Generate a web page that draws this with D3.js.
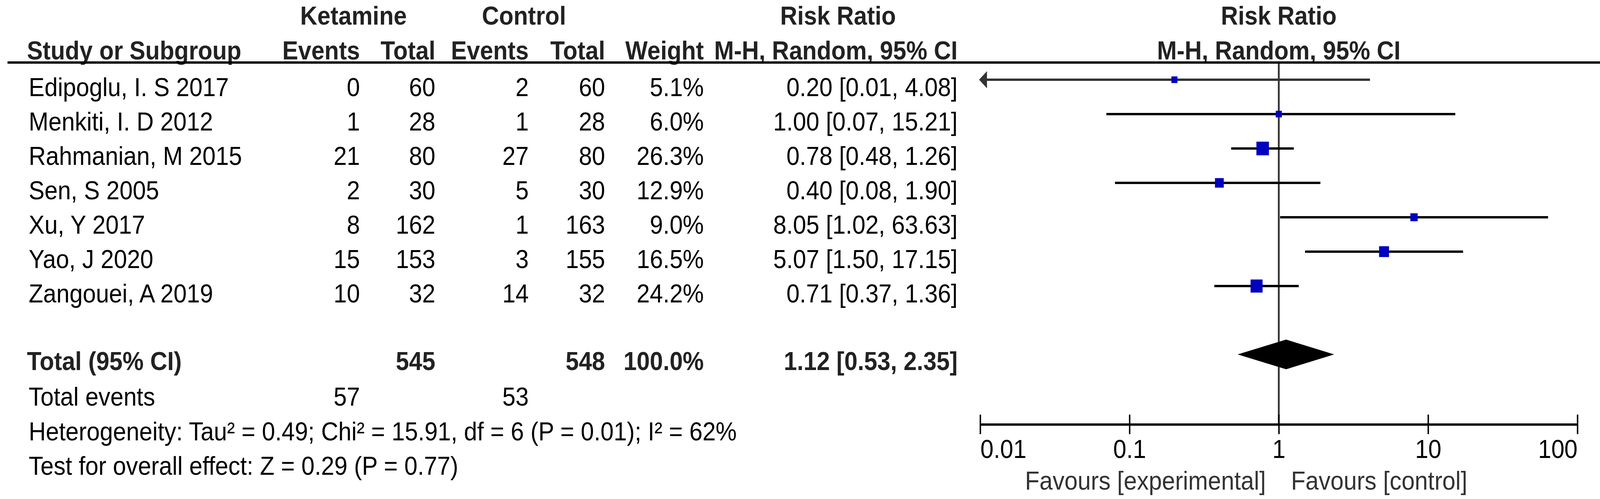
<!DOCTYPE html>
<html>
<head>
<meta charset="utf-8">
<script src="https://cdn.jsdelivr.net/npm/d3@7"></script>
<style>
  html, body { margin: 0; padding: 0; background: #fff; overflow: hidden; }
  svg { display: block; width: 100vw; height: 100vh; }
  text { font-family: "Liberation Sans", Arial, sans-serif; font-size: 66px; }
</style>
</head>
<body>
<div id="forest"></div>
<script>
var width = 4458, height = 1277;

// study data
var studies = ["Edipoglu, I. S 2017", "Menkiti, I. D 2012", "Rahmanian, M 2015", "Sen, S 2005",
               "Xu, Y 2017", "Yao, J 2020", "Zangouei, A 2019"];
var ketEvents = [0, 1, 21, 2, 8, 15, 10];
var ketTotal = [60, 28, 80, 30, 162, 153, 32];
var ctlEvents = [2, 1, 27, 5, 1, 3, 14];
var ctlTotal = [60, 28, 80, 30, 163, 155, 32];
var weights = [5.1, 6.0, 26.3, 12.9, 9.0, 16.5, 24.2];
var rr = [0.20, 1.00, 0.78, 0.40, 8.05, 5.07, 0.71];
var lower = [0.01, 0.07, 0.48, 0.08, 1.02, 1.50, 0.37];
var upper = [4.08, 15.21, 1.26, 1.90, 63.63, 17.15, 1.36];

// pooled result
var totalKet = 545, totalCtl = 548, totalWeight = "100.0%";
var eventsKet = 57, eventsCtl = 53;
var pooled = [1.12, 0.53, 2.35];

var axisTicks = [0.01, 0.1, 1, 10, 100];
var heteroText = "Heterogeneity: Tau\u00b2 = 0.49; Chi\u00b2 = 15.91, df = 6 (P = 0.01); I\u00b2 = 62%";
var overallText = "Test for overall effect: Z = 0.29 (P = 0.77)";

// stretch the drawing to whatever the viewport is
var svg = d3.select("#forest")
    .append("svg")
    .attr("viewBox", "0 0 " + width + " " + height)
    .attr("preserveAspectRatio", "none");

var x = d3.scaleLog().domain([0.01, 100]).range([2731, 4395]);
var y = d3.scalePoint().domain(studies).range([246, 774]);   // text baselines
var markOff = 42;   // marks sit above the baseline
var boxSize = function(w) { return Math.max(17, 6.8 * Math.sqrt(w)); };

// column right edges
var col = { ketEv: 1003, ketTot: 1213, ctlEv: 1473, ctlTot: 1686, weight: 1961, ci: 2668 };
var fmt = d3.format(".2f");
var ciLabel = function(m, l, u) { return fmt(m) + " [" + fmt(l) + ", " + fmt(u) + "]"; };

// headers
function head(txt, xp, yp, anchor) {
  svg.append("text").attr("x", xp).attr("y", yp)
    .attr("text-anchor", anchor).attr("font-weight", "bold").attr("fill", "#222")
    .text(txt);
}
head("Ketamine", 985, 63, "middle");
head("Control", 1460, 63, "middle");
head("Risk Ratio", 2335, 63, "middle");
head("Risk Ratio", x(1), 63, "middle");
head("Study or Subgroup", 75, 152, "start");
head("Events", col.ketEv, 152, "end");
head("Total", col.ketTot, 152, "end");
head("Events", col.ctlEv, 152, "end");
head("Total", col.ctlTot, 152, "end");
head("Weight", col.weight, 152, "end");
head("M-H, Random, 95% CI", col.ci, 152, "end");
head("M-H, Random, 95% CI", x(1), 152, "middle");

// line of no effect
svg.append("line")
  .attr("x1", x(1)).attr("x2", x(1))
  .attr("y1", 162).attr("y2", 1086)
  .attr("stroke", "#333").attr("stroke-width", 5);

svg.append("line")
  .attr("x1", 21).attr("x2", width)
  .attr("y1", 160).attr("y2", 160)
  .attr("stroke", "#000").attr("stroke-width", 6);

// study rows
var rows = svg.selectAll("g.row")
  .data(studies)
  .enter()
  .append("g")
  .attr("class", "row");

var cells = [
  { x: 80, anchor: "start", get: function(d, i) { return d; } },
  { x: col.ketEv, anchor: "end", get: function(d, i) { return ketEvents[i]; } },
  { x: col.ketTot, anchor: "end", get: function(d, i) { return ketTotal[i]; } },
  { x: col.ctlEv, anchor: "end", get: function(d, i) { return ctlEvents[i]; } },
  { x: col.ctlTot, anchor: "end", get: function(d, i) { return ctlTotal[i]; } },
  { x: col.weight, anchor: "end", get: function(d, i) { return weights[i].toFixed(1) + "%"; } },
  { x: col.ci, anchor: "end", get: function(d, i) { return ciLabel(rr[i], lower[i], upper[i]); } }
];
cells.forEach(function(c) {
  rows.append("text")
    .attr("x", c.x)
    .attr("y", function(d) { return y(d); })
    .attr("text-anchor", c.anchor)
    .attr("fill", "#000")
    .text(c.get);
});

// CI lines
rows.append("line")
  .attr("x1", function(d, i) { return x(Math.max(lower[i], 0.01)); })
  .attr("x2", function(d, i) { return x(Math.min(upper[i], 100)); })
  .attr("y1", function(d) { return y(d) - markOff; })
  .attr("y2", function(d) { return y(d) - markOff; })
  .attr("stroke", function(d, i) { return lower[i] <= 0.01 ? "#333" : "#000"; })
  .attr("stroke-width", 6);

// arrows for clipped intervals
rows.filter(function(d, i) { return lower[i] <= 0.01; })
  .append("path")
  .attr("d", function(d) {
    var x0 = x(0.01) - 3, yy = y(d) - markOff;
    return "M" + x0 + "," + yy + "L" + (x0 + 22) + "," + (yy - 22) + "L" + (x0 + 22) + "," + (yy + 22) + "Z";
  })
  .attr("fill", "#333");

// weight boxes
rows.append("rect")
  .attr("x", function(d, i) { return x(rr[i]) - boxSize(weights[i]) / 2; })
  .attr("y", function(d, i) { return y(d) - markOff - boxSize(weights[i]) / 2; })
  .attr("width", function(d, i) { return boxSize(weights[i]); })
  .attr("height", function(d, i) { return boxSize(weights[i]); })
  .attr("fill", "#0000bf");

// total row
var totY = 947;
head("Total (95% CI)", 75, totY, "start");
head(totalKet, col.ketTot, totY, "end");
head(totalCtl, col.ctlTot, totY, "end");
head(totalWeight, col.weight, totY, "end");
head(ciLabel(pooled[0], pooled[1], pooled[2]), col.ci, totY, "end");

var dy = totY - 40;
svg.append("path")
  .attr("d", "M" + x(pooled[1]) + "," + dy +
             "L" + x(pooled[0]) + "," + (dy - 38) +
             "L" + x(pooled[2]) + "," + dy +
             "L" + x(pooled[0]) + "," + (dy + 38) + "Z")
  .attr("fill", "#000");

function plain(txt, xp, yp, anchor) {
  svg.append("text").attr("x", xp).attr("y", yp)
    .attr("text-anchor", anchor).attr("fill", "#000").text(txt);
}
plain("Total events", 80, 1038, "start");
plain(eventsKet, col.ketEv, 1038, "end");
plain(eventsCtl, col.ctlEv, 1038, "end");
plain(heteroText, 80, 1127, "start");
plain(overallText, 80, 1215, "start");

// axis
var axis = svg.append("g")
  .attr("transform", "translate(0,1086)")
  .call(d3.axisBottom(x).tickValues(axisTicks).tickFormat(d3.format("~g"))
        .tickSizeInner(0).tickSizeOuter(0));
axis.select(".domain").attr("stroke", "#000").attr("stroke-width", 6);
axis.selectAll(".tick line")
  .attr("y1", -25).attr("y2", 25)
  .attr("stroke", "#000").attr("stroke-width", 4);
axis.selectAll(".tick text")
  .attr("y", 86).attr("dy", 0)
  .attr("fill", "#000")
  .style("font-size", "66px")
  .style("font-family", "Liberation Sans, Arial, sans-serif")
  .attr("text-anchor", function(d, i) {
    return i == 0 ? "start" : (i == axisTicks.length - 1 ? "end" : "middle");
  });

svg.append("text").attr("x", x(1) - 36).attr("y", 1253)
  .attr("text-anchor", "end").attr("fill", "#333").text("Favours [experimental]");
svg.append("text").attr("x", x(1) + 34).attr("y", 1253)
  .attr("text-anchor", "start").attr("fill", "#333").text("Favours [control]");
</script>
</body>
</html>
